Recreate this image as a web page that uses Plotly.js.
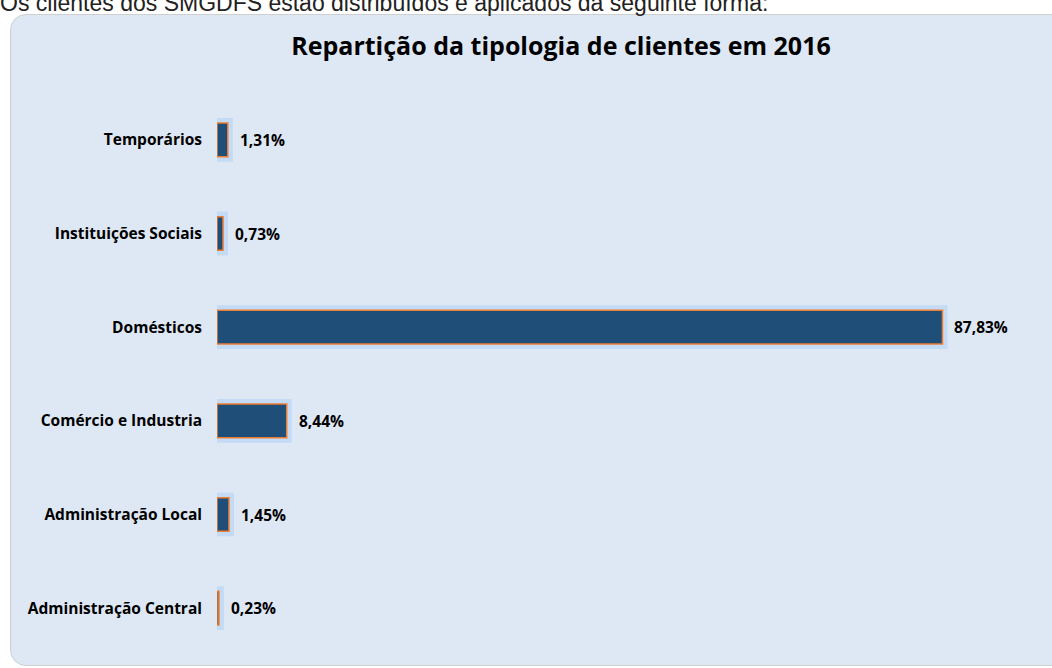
<!DOCTYPE html>
<html>
<head>
<meta charset="utf-8">
<script src="https://cdn.plot.ly/plotly-3.0.1.min.js"></script>
<style>
  html, body { margin:0; padding:0; background:#ffffff; width:1052px; height:668px; overflow:hidden; }
  #panel { position:absolute; left:10px; top:14px; width:1060px; height:652px; background:#DEE8F4;
           border:1px solid #CFCFCF; border-radius:16px; box-sizing:border-box; }
  #chart { position:absolute; left:0; top:0; width:1052px; height:668px; }
</style>
</head>
<body>
<div id="panel"></div>
<div id="chart"></div>
<script>
const categories = ['Administração Central','Administração Local','Comércio e Industria','Domésticos','Instituições Sociais','Temporários'];
const values = [0.23, 1.45, 8.44, 87.83, 0.73, 1.31];
const valueLabels = ['0,23%', '1,45%', '8,44%', '87,83%', '0,73%', '1,31%'];
const chartTitle = 'Repartição da tipologia de clientes em 2016';
const introText = 'Os clientes dos SMGDFS estão distribuídos e aplicados da seguinte forma:';

const W = 1052, H = 668;
const M = {l:217, r:9, t:93, b:13};
const pw = W - M.l - M.r, ph = H - M.t - M.b;
const px2x = p => (p - M.l) / pw;
const px2y = p => (H - M.b - p) / ph;

const barW = 0.36;
const font = '"Open Sans", "Lato", sans-serif';

const glow = {
  type:'bar', orientation:'h', x: values, y: categories, width: barW,
  marker:{ color:'rgba(175,208,245,0.55)', line:{ color:'rgba(175,208,245,0.55)', width:10 } },
  hoverinfo:'skip', showlegend:false
};
const main = {
  type:'bar', orientation:'h', x: values, y: categories, width: barW,
  marker:{ color:'#1F4E79', line:{ color:'#ED7D31', width:1.5 } },
  showlegend:false
};

const annotations = values.map((v,i) => ({
  x: v, y: categories[i], xref:'x', yref:'y', text: '<b>' + valueLabels[i] + '</b>',
  showarrow:false, xanchor:'left', yanchor:'middle', xshift: 10,
  font:{ family: font, size:15.5, color:'#000000' }
}));
annotations.push({
  xref:'paper', yref:'paper', x: px2x(-2), y: px2y(3), xanchor:'left', yanchor:'middle',
  text: introText, showarrow:false, font:{ family:'"Liberation Sans", Arial, sans-serif', size:23, color:'#222222' }
});

const layout = {
  width: W, height: H,
  margin: M,
  paper_bgcolor:'rgba(0,0,0,0)', plot_bgcolor:'rgba(0,0,0,0)',
  barmode:'overlay',
  title:{ text:'<b>' + chartTitle + '</b>', x: 561/W, xref:'container', xanchor:'center',
          y: 1 - 46/H, yref:'container', yanchor:'middle',
          font:{ family: font, size:25, color:'#000000' } },
  xaxis:{ range:[0,100], showgrid:false, zeroline:false, showline:false, showticklabels:false, ticks:'', fixedrange:true },
  yaxis:{ type:'category', categoryorder:'array', categoryarray: categories, range:[-0.5, 5.5],
          showgrid:false, zeroline:false, showline:false, ticks:'', ticklabelstandoff: 14,
          tickfont:{ family: font, size:15.5, color:'#000000', weight:'bold' }, fixedrange:true },
  annotations: annotations,
  showlegend:false
};

Plotly.newPlot('chart', [glow, main], layout, {displayModeBar:false, staticPlot:true});
</script>
</body>
</html>
